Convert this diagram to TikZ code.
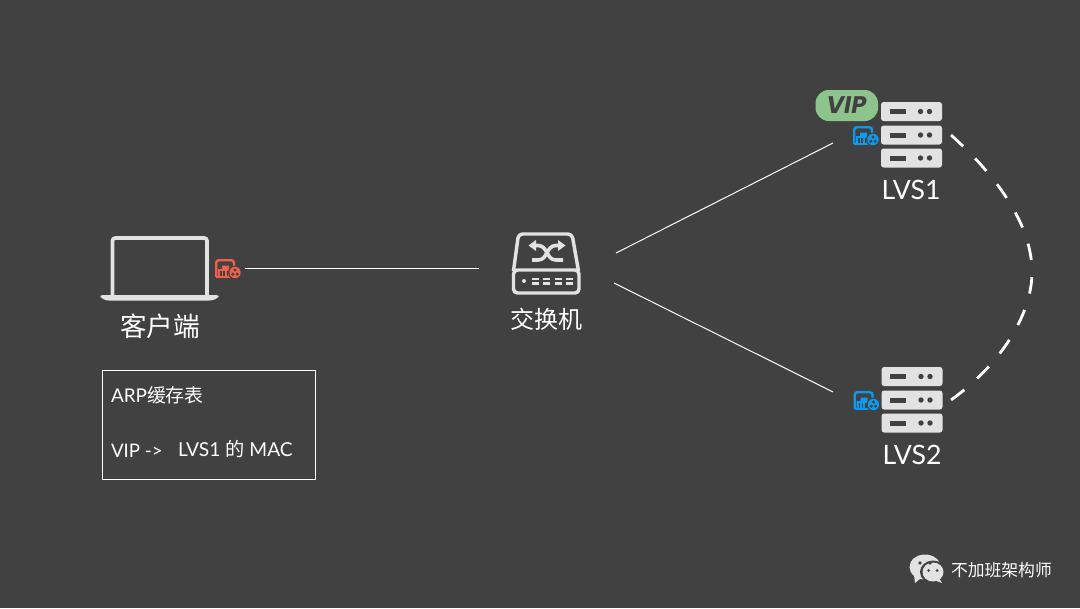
\documentclass[tikz,border=0pt]{standalone}
\usepackage{fontspec}
\setmainfont{Lato}
\newfontfamily\cjk{Noto Sans CJK SC}
\newfontfamily\vipfont{Poppins}
\definecolor{bgc}{HTML}{414141}
\definecolor{icon}{HTML}{E2E2E2}
\definecolor{redi}{HTML}{F0614A}
\definecolor{bluei}{HTML}{0A9BF0}
\definecolor{vipg}{HTML}{8CC48C}
\tikzset{
  link/.style={draw=white,line width=0.75pt},
  dashlink/.style={draw=white,line width=2.1pt,dash pattern=on 12.5pt off 12.8pt},
  lab/.style={text=white,inner sep=0pt,outer sep=0pt,anchor=center},
  smallicon/.pic={
    \draw[draw=#1,line width=1.8pt,rounded corners=2pt] (1.2,17.8) -- (1.2,1.2) -- (19,1.2) -- (19,10);
    \draw[draw=#1,line width=1.8pt] (1.2,17.8) -- (15,17.8);
    \fill[#1] (3,18) -- (3,10) -- (7,10) -- (7,6.5) -- (14,6.5) -- (14,10) -- (17,10) -- (17,18) -- cycle;
    \foreach \bx in {5,8.4,11.8}{\fill[bgc] (\bx,12) rectangle +(1.5,4.5);}
    \fill[bgc] (20,13.5) circle[radius=7];
    \fill[#1] (20,13.5) circle[radius=5.7];
    \foreach \dx/\dy in {20/11,17.8/15.2,22.2/15.2}{\fill[bgc] (\dx,\dy) circle[radius=1.7];}
  },
  serverrow/.pic={
    \fill[icon,rounded corners=2pt] (0,0) rectangle (61,19);
    \fill[bgc] (8.5,7) rectangle (24.5,12);
    \fill[bgc] (39.5,9.5) circle[radius=2.7] (48.5,9.5) circle[radius=2.7];
  },
}
\begin{document}
\begin{tikzpicture}[x=0.75pt,y=-0.75pt]
\useasboundingbox (0,0) rectangle (1080,608);
\fill[bgc] (0,0) rectangle (1080,608);

% laptop
\draw[icon,line width=2.7pt,rounded corners=2pt] (112.5,296) -- (112.5,238) -- (207,238) -- (207,296);
\fill[icon,rounded corners=2pt] (100,295) -- (219,295) -- (218,298) -- (212,300.5) -- (106,300.5) -- (101,298) -- cycle;
\pic at (215,259) {smallicon=redi};
\node[lab,font=\cjk\fontsize{20pt}{22pt}\selectfont] (client) at (160,326) {客户端};

% switch
\draw[icon,line width=2.6pt,rounded corners=3pt,line join=round] (513.5,271) -- (518.5,234) -- (572,234) -- (578.5,271);
\draw[icon,line width=2.6pt,rounded corners=3pt] (513.5,270) rectangle (579,293);
\draw[icon,line width=2.7pt] (534,245.5) -- (538,245.5) .. controls (548,245.5) and (546,260) .. (556,260) -- (563,260);
\draw[icon,line width=2.7pt] (532,260) -- (538,260) .. controls (548,260) and (546,245.5) .. (556,245.5) -- (560,245.5);
\fill[icon] (558,240) -- (565.5,245.5) -- (558,251) -- cycle;
\fill[icon] (536,240) -- (536,251) -- (528.5,245.5) -- cycle;
\fill[icon] (524,281) circle[radius=2];
\foreach \sx in {532,543,555,566}{
  \fill[icon] (\sx,277.5) rectangle +(6.5,2.8);
  \fill[icon] (\sx,282) rectangle +(6.5,2.8);
}
\node[lab,font=\cjk\fontsize{18pt}{20pt}\selectfont] (sw) at (546,319) {交换机};

% LVS1
\foreach \ry in {102,125.5,148.5}{\pic at (881,\ry) {serverrow};}
\fill[vipg,rounded corners=10pt] (815.5,90) rectangle (878,121);
\node[lab,text=bgc,font=\vipfont\fontsize{18pt}{20pt}\selectfont\bfseries\itshape] (vip) at (846.5,105) {VIP};
\pic at (853,126) {smallicon=bluei};
\node[lab,font=\fontsize{20pt}{22pt}\selectfont] (lvs1) at (911,190) {LVS1};

% LVS2
\foreach \ry in {367,390.5,413.5}{\pic at (881.5,\ry) {serverrow};}
\pic at (853.5,391) {smallicon=bluei};
\node[lab,font=\fontsize{20pt}{22pt}\selectfont] (lvs2) at (912,455) {LVS2};

% connectors
\coordinate (c1) at (245,268.5);
\coordinate (c2) at (479,268.5);
\coordinate (s1) at (616,253);
\coordinate (l1) at (833,143);
\coordinate (s2) at (614,283);
\coordinate (l2) at (833,392);
\coordinate (d1) at (951,135);
\coordinate (d2) at (951,400);
\coordinate (dm) at (1032,272);
\path[link] (c1) -- (c2);
\path[link] (s1) -- (l1);
\path[link] (s2) -- (l2);
\path[dashlink] (d1) .. controls (990,170) and (1032,220) .. (dm) .. controls (1032,315) and (1000,365) .. (d2);

% ARP box
\node[draw=white,line width=0.75pt,outer sep=0pt,minimum width=159.75pt,minimum height=81.5pt,inner sep=0pt,anchor=north west] (arp) at (102.5,370.5) {};
\node[lab,anchor=west,font=\fontsize{14.2pt}{16pt}\selectfont] (t1) at (111,395) {ARP{\cjk 缓存表}};
\node[lab,anchor=west,font=\fontsize{14pt}{16pt}\selectfont] (t2) at (111,451) {VIP ->};
\node[lab,anchor=west,font=\fontsize{14.4pt}{16pt}\selectfont] (t3) at (178,449) {LVS1 {\cjk 的} MAC};

% watermark
\fill[icon] (925,567) ellipse[x radius=15.5,y radius=12.5];
\fill[icon] (914,575) -- (921,578) -- (915,583) -- cycle;
\fill[bgc] (933,572) ellipse[x radius=13,y radius=11.5];
\fill[icon] (933,572) ellipse[x radius=10.5,y radius=9.5];
\fill[icon] (939,578) -- (942,583) -- (934,580) -- cycle;
\fill[bgc] (920,563) circle[radius=1.9] (930,563) circle[radius=1.9] (928.5,570.5) circle[radius=1.5] (937,570.5) circle[radius=1.5];
\node[lab,anchor=west,font=\cjk\fontsize{12.6pt}{14pt}\selectfont] (wm) at (951,570) {不加班架构师};
\end{tikzpicture}
\end{document}
